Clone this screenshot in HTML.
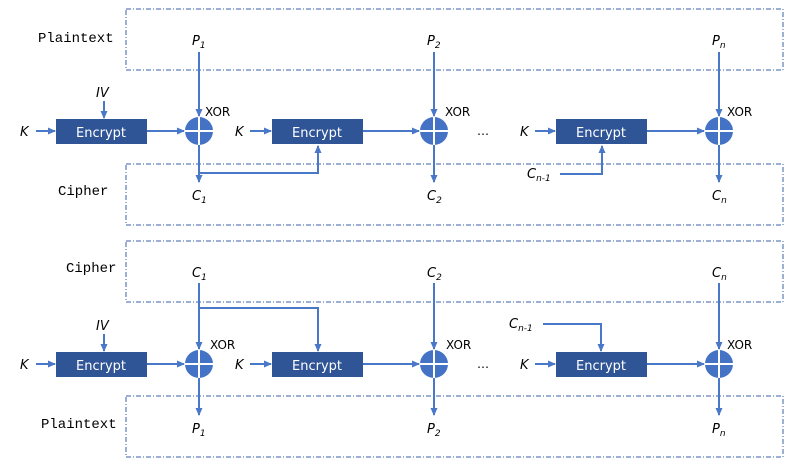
<!DOCTYPE html>
<html><head><meta charset="utf-8"><style>
html,body{margin:0;padding:0;background:#fff;}
svg{display:block;}
.lbl{font-family:"Liberation Mono",monospace;font-size:14px;fill:#000;}
.it{font-family:"DejaVu Sans","Liberation Sans",sans-serif;font-style:italic;font-size:13px;fill:#000;}
.sub{font-size:9px;}
.enc{font-family:"DejaVu Sans","Liberation Sans",sans-serif;font-size:13px;fill:#fff;}
.xor{font-family:"DejaVu Sans","Liberation Sans",sans-serif;font-size:12px;fill:#000;}
.box{fill:none;stroke:#3a5fa8;stroke-width:1;stroke-dasharray:5,2,1,2;}
.ln{stroke:#4a78c9;stroke-width:2;fill:none;}
</style></head><body>
<svg width="791" height="470" viewBox="0 0 791 470">
<defs><marker id="a" markerWidth="8" markerHeight="8" refX="7" refY="4" orient="auto" markerUnits="userSpaceOnUse"><path d="M0,0.5 L8,4 L0,7.5z" fill="#4a78c9"/></marker></defs>
<rect class="box" x="126" y="9" width="657" height="61"/>
<rect class="box" x="126" y="164" width="657" height="61"/>
<rect class="box" x="126" y="241" width="657" height="61"/>
<rect class="box" x="126" y="396" width="657" height="61"/>
<text class="lbl" x="38" y="42">Plaintext</text>
<text class="lbl" x="58" y="195">Cipher</text>
<text class="lbl" x="66" y="272">Cipher</text>
<text class="lbl" x="41" y="428">Plaintext</text>

<!-- top row -->
<g>
<line class="ln" x1="36" y1="131" x2="55" y2="131" marker-end="url(#a)"/>
<line class="ln" x1="104" y1="101" x2="104" y2="118" marker-end="url(#a)"/>
<rect x="56" y="119" width="91" height="25" fill="#2f5597"/>
<text class="enc" x="101" y="137" text-anchor="middle">Encrypt</text>
<line class="ln" x1="147" y1="131" x2="184" y2="131" marker-end="url(#a)"/>
<line class="ln" x1="199" y1="52" x2="199" y2="116" marker-end="url(#a)"/>
<line class="ln" x1="199" y1="145" x2="199" y2="182" marker-end="url(#a)"/>
<polyline class="ln" points="199,173 318,173 318,146" marker-end="url(#a)"/>
<line class="ln" x1="250" y1="131" x2="271" y2="131" marker-end="url(#a)"/>
<rect x="272" y="119" width="91" height="25" fill="#2f5597"/>
<text class="enc" x="317" y="137" text-anchor="middle">Encrypt</text>
<line class="ln" x1="363" y1="131" x2="419" y2="131" marker-end="url(#a)"/>
<line class="ln" x1="434" y1="52" x2="434" y2="116" marker-end="url(#a)"/>
<line class="ln" x1="434" y1="145" x2="434" y2="182" marker-end="url(#a)"/>
<line class="ln" x1="535" y1="131" x2="555" y2="131" marker-end="url(#a)"/>
<polyline class="ln" points="560,174 602,174 602,146" marker-end="url(#a)"/>
<rect x="556" y="119" width="91" height="25" fill="#2f5597"/>
<text class="enc" x="601" y="137" text-anchor="middle">Encrypt</text>
<line class="ln" x1="647" y1="131" x2="704" y2="131" marker-end="url(#a)"/>
<line class="ln" x1="719" y1="52" x2="719" y2="116" marker-end="url(#a)"/>
<line class="ln" x1="719" y1="145" x2="719" y2="182" marker-end="url(#a)"/>
</g>
<g fill="#4472c4" stroke="#fff" stroke-width="2">
<circle cx="199" cy="131" r="14" stroke="none"/><path d="M185,131H213M199,117V145"/>
<circle cx="434" cy="131" r="14" stroke="none"/><path d="M420,131H448M434,117V145"/>
<circle cx="719" cy="131" r="14" stroke="none"/><path d="M705,131H733M719,117V145"/>
<circle cx="199" cy="364" r="14" stroke="none"/><path d="M185,364H213M199,350V378"/>
<circle cx="434" cy="364" r="14" stroke="none"/><path d="M420,364H448M434,350V378"/>
<circle cx="719" cy="364" r="14" stroke="none"/><path d="M705,364H733M719,350V378"/>
</g>
<text class="xor" x="205" y="116">XOR</text>
<text class="xor" x="445" y="116">XOR</text>
<text class="xor" x="727" y="116">XOR</text>
<text class="it" x="20" y="136">K</text>
<text class="it" x="235" y="136">K</text>
<text class="it" x="520" y="136">K</text>
<text class="it" x="96" y="97">IV</text>
<text class="it" x="192" y="45">P<tspan class="sub" dy="3">1</tspan></text>
<text class="it" x="427" y="45">P<tspan class="sub" dy="3">2</tspan></text>
<text class="it" x="712" y="45">P<tspan class="sub" dy="3">n</tspan></text>
<text class="it" x="192" y="200">C<tspan class="sub" dy="3">1</tspan></text>
<text class="it" x="427" y="200">C<tspan class="sub" dy="3">2</tspan></text>
<text class="it" x="712" y="200">C<tspan class="sub" dy="3">n</tspan></text>
<text class="it" x="527" y="178">C<tspan class="sub" dy="3">n-1</tspan></text>
<text class="xor" x="477" y="135">…</text>

<!-- bottom row -->
<g>
<line class="ln" x1="36" y1="364" x2="55" y2="364" marker-end="url(#a)"/>
<line class="ln" x1="104" y1="334" x2="104" y2="351" marker-end="url(#a)"/>
<rect x="56" y="352" width="91" height="25" fill="#2f5597"/>
<text class="enc" x="101" y="370" text-anchor="middle">Encrypt</text>
<line class="ln" x1="147" y1="364" x2="184" y2="364" marker-end="url(#a)"/>
<line class="ln" x1="199" y1="283" x2="199" y2="349" marker-end="url(#a)"/>
<polyline class="ln" points="199,308 318,308 318,351" marker-end="url(#a)"/>
<line class="ln" x1="199" y1="378" x2="199" y2="415" marker-end="url(#a)"/>
<line class="ln" x1="250" y1="364" x2="271" y2="364" marker-end="url(#a)"/>
<rect x="272" y="352" width="91" height="25" fill="#2f5597"/>
<text class="enc" x="317" y="370" text-anchor="middle">Encrypt</text>
<line class="ln" x1="363" y1="364" x2="419" y2="364" marker-end="url(#a)"/>
<line class="ln" x1="434" y1="283" x2="434" y2="349" marker-end="url(#a)"/>
<line class="ln" x1="434" y1="378" x2="434" y2="415" marker-end="url(#a)"/>
<line class="ln" x1="535" y1="364" x2="555" y2="364" marker-end="url(#a)"/>
<polyline class="ln" points="543,324 601,324 601,351" marker-end="url(#a)"/>
<rect x="556" y="352" width="91" height="25" fill="#2f5597"/>
<text class="enc" x="601" y="370" text-anchor="middle">Encrypt</text>
<line class="ln" x1="647" y1="364" x2="704" y2="364" marker-end="url(#a)"/>
<line class="ln" x1="719" y1="283" x2="719" y2="349" marker-end="url(#a)"/>
<line class="ln" x1="719" y1="378" x2="719" y2="415" marker-end="url(#a)"/>
</g>
<text class="xor" x="210" y="349">XOR</text>
<text class="xor" x="446" y="349">XOR</text>
<text class="xor" x="727" y="349">XOR</text>
<text class="it" x="20" y="369">K</text>
<text class="it" x="235" y="369">K</text>
<text class="it" x="520" y="369">K</text>
<text class="it" x="96" y="330">IV</text>
<text class="it" x="192" y="277">C<tspan class="sub" dy="3">1</tspan></text>
<text class="it" x="427" y="277">C<tspan class="sub" dy="3">2</tspan></text>
<text class="it" x="712" y="277">C<tspan class="sub" dy="3">n</tspan></text>
<text class="it" x="192" y="433">P<tspan class="sub" dy="3">1</tspan></text>
<text class="it" x="427" y="433">P<tspan class="sub" dy="3">2</tspan></text>
<text class="it" x="712" y="433">P<tspan class="sub" dy="3">n</tspan></text>
<text class="it" x="509" y="328">C<tspan class="sub" dy="3">n-1</tspan></text>
<text class="xor" x="477" y="368">…</text>
</svg>
</body></html>
